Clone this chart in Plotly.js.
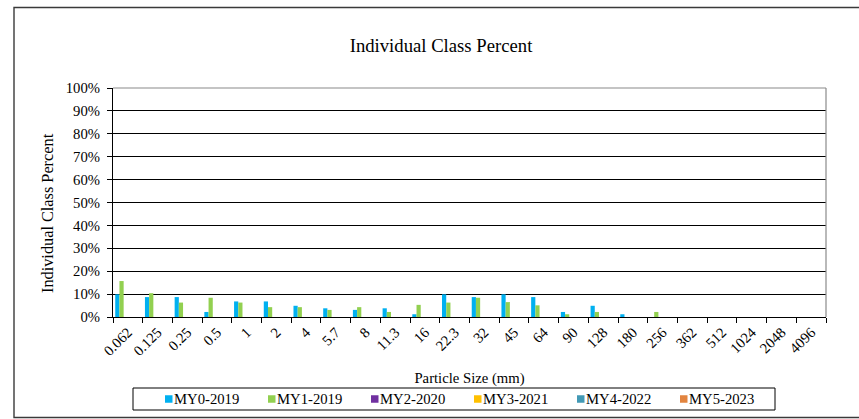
<!DOCTYPE html>
<html>
<head>
<meta charset="utf-8">
<script src="https://cdn.plot.ly/plotly-3.0.1.min.js"></script>
<style>
  html, body { margin: 0; padding: 0; background: #fff; }
  #chart { width: 859px; height: 419px; }
</style>
</head>
<body>
<div id="chart"></div>
<script>
// Categories (particle size, mm)
const sizes = ["0.062","0.125","0.25","0.5","1","2","4","5.7","8","11.3","16","22.3","32","45","64","90","128","180","256","362","512","1024","2048","4096"];

// Individual class percent per monitoring year
const my0_2019 = [9.9, 8.7, 8.7, 2.2, 6.8, 6.8, 4.9, 3.8, 3.1, 3.8, 1.2, 9.9, 8.7, 9.9, 8.7, 2.2, 4.9, 1.2, 0, 0, 0, 0, 0, 0];
const my1_2019 = [15.7, 10.4, 6.3, 8.4, 6.3, 4.3, 4.3, 3.1, 4.3, 2.2, 5.3, 6.3, 8.4, 6.5, 5.1, 1.2, 2.2, 0, 2.2, 0, 0, 0, 0, 0];
const my2_2020 = [0, 0, 0, 0, 0, 0, 0, 0, 0, 0, 0, 0, 0, 0, 0, 0, 0, 0, 0, 0, 0, 0, 0, 0];
const my3_2021 = [0, 0, 0, 0, 0, 0, 0, 0, 0, 0, 0, 0, 0, 0, 0, 0, 0, 0, 0, 0, 0, 0, 0, 0];
const my4_2022 = [0, 0, 0, 0, 0, 0, 0, 0, 0, 0, 0, 0, 0, 0, 0, 0, 0, 0, 0, 0, 0, 0, 0, 0];
const my5_2023 = [0, 0, 0, 0, 0, 0, 0, 0, 0, 0, 0, 0, 0, 0, 0, 0, 0, 0, 0, 0, 0, 0, 0, 0];

const seriesNames = ["MY0-2019", "MY1-2019", "MY2-2020", "MY3-2021", "MY4-2022", "MY5-2023"];
const seriesValues = [my0_2019, my1_2019, my2_2020, my3_2021, my4_2022, my5_2023];
const seriesColors = ["#00B0F0", "#92D050", "#7030A0", "#FFC000", "#4299B5", "#E2843F"];

const chartTitle = "Individual Class Percent";
const xTitle = "Particle Size (mm)";
const yTitle = "Individual Class Percent";

const FONT = "Liberation Serif";

const traces = seriesNames.map((name, i) => ({
  type: "bar",
  name: name,
  x: sizes,
  y: seriesValues[i],
  marker: { color: seriesColors[i], line: { width: 0 } },
  showlegend: false,
  hoverinfo: "x+y+name"
}));

const L = 113, R = 826, T = 88, B = 317, W = 859, H = 419;
const pw = R - L, ph = B - T;
const px = v => (v - L) / pw;
const py = v => (B - v) / ph;

// Legend (drawn as a boxed row of colour keys and labels)
const legLeft = 133, legRight = 775, legTop = 388, legBottom = 410;
const keyX0 = 165, keyStep = 103, keySize = 7.5, keyMidY = 399;

const legendShapes = [
  { type: "rect", xref: "paper", yref: "paper", x0: px(legLeft), x1: px(legRight), y0: py(legBottom), y1: py(legTop),
    line: { color: "#000", width: 1 }, fillcolor: "#fff", layer: "above" }
].concat(seriesNames.map((n, i) => ({
  type: "rect", xref: "paper", yref: "paper",
  x0: px(keyX0 + keyStep * i), x1: px(keyX0 + keyStep * i + keySize),
  y0: py(keyMidY + keySize / 2), y1: py(keyMidY - keySize / 2),
  line: { width: 0 }, fillcolor: seriesColors[i], layer: "above"
})));

const legendLabels = seriesNames.map((n, i) => ({
  text: n, xref: "paper", yref: "paper",
  x: px(keyX0 + keyStep * i + keySize), xanchor: "left",
  y: py(keyMidY), yanchor: "middle",
  showarrow: false, borderpad: 0,
  font: { family: FONT, size: 14.7, color: "#000" }
}));

const yTitleAnn = {
  text: yTitle, xref: "paper", yref: "paper",
  x: px(47), xanchor: "center",
  y: py(213), yanchor: "middle",
  textangle: -90, showarrow: false, borderpad: 0,
  font: { family: FONT, size: 16.3, color: "#000" }
};

const layout = {
  width: W,
  height: H,
  margin: { l: L, r: W - R, t: T, b: H - B, pad: 0 },
  paper_bgcolor: "#ffffff",
  plot_bgcolor: "#ffffff",
  font: { family: FONT, size: 14.7, color: "#000" },
  showlegend: false,
  title: {
    text: chartTitle,
    font: { family: FONT, size: 18.7, color: "#000" },
    xref: "container", yref: "container",
    x: 441 / W, xanchor: "center",
    y: 1 - 45 / H, yanchor: "middle"
  },
  barmode: "group",
  bargap: 0.15,
  bargroupgap: 0,
  xaxis: {
    type: "category",
    tickangle: -45,
    tickson: "boundaries",
    ticks: "outside",
    ticklen: 5,
    tickcolor: "#000",
    showline: true,
    linecolor: "#000",
    linewidth: 1,
    showgrid: false,
    zeroline: false,
    tickfont: { family: FONT, size: 14.7, color: "#000" },
    title: { text: xTitle, font: { family: FONT, size: 14.7, color: "#000" }, standoff: 14 },
    automargin: false,
    fixedrange: true
  },
  yaxis: {
    range: [0, 100],
    dtick: 10,
    tick0: 0,
    ticksuffix: "%",
    ticks: "outside",
    ticklen: 5,
    tickcolor: "#000",
    ticklabelstandoff: 4,
    showline: true,
    linecolor: "#000",
    linewidth: 1,
    showgrid: true,
    gridcolor: "#000",
    gridwidth: 1,
    zeroline: false,
    tickfont: { family: FONT, size: 14.7, color: "#000" },
    automargin: false,
    fixedrange: true
  },
  annotations: [yTitleAnn].concat(legendLabels),
  shapes: [
    { type: "line", xref: "paper", yref: "paper", x0: 0, x1: 1, y0: 1, y1: 1, line: { color: "#8a8a8a", width: 1.2 } },
    { type: "line", xref: "paper", yref: "paper", x0: 1, x1: 1, y0: 0, y1: 1, line: { color: "#8a8a8a", width: 1.2 } },
    { type: "rect", xref: "paper", yref: "paper", x0: px(14), x1: px(875), y0: py(417.5), y1: py(7.5), line: { color: "#3a3a3a", width: 1.4 }, fillcolor: "rgba(0,0,0,0)", layer: "above" }
  ].concat(legendShapes)
};

Plotly.newPlot("chart", traces, layout, { displayModeBar: false, staticPlot: true });
</script>
</body>
</html>
